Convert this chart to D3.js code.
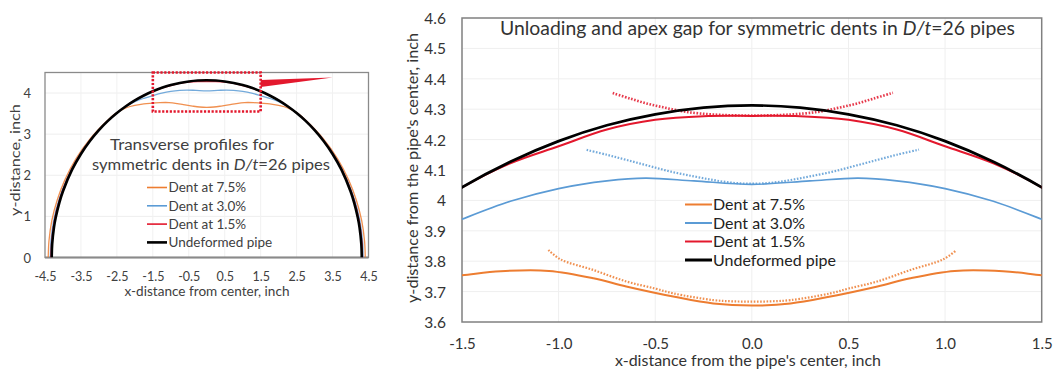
<!DOCTYPE html>
<html><head><meta charset="utf-8">
<script src="https://cdn.jsdelivr.net/npm/d3@7"></script>
<style>
html,body{margin:0;padding:0;background:#fff;}
svg{display:block;}
text{font-family:Lato,"Open Sans",sans-serif;}
</style></head>
<body><svg id="c" width="1053" height="369"></svg>
<script>
// ---------------- DATA ----------------
const undeformedPipe = [[-4.3125,0],[-4.3,0.328],[-4.25,0.732],[-4.2,0.979],[-4.1,1.337],[-4.0,1.612],[-3.75,2.130],[-3.5,2.519],[-3.25,2.835],[-3.0,3.098],[-2.75,3.322],[-2.5,3.514],[-2.25,3.679],[-2.0,3.821],[-1.75,3.941],[-1.5,4.043],[-1.25,4.127],[-1.0,4.195],[-0.75,4.247],[-0.5,4.283],[-0.25,4.305],[0,4.3125],[0.25,4.305],[0.5,4.283],[0.75,4.247],[1.0,4.195],[1.25,4.127],[1.5,4.043],[1.75,3.941],[2.0,3.821],[2.25,3.679],[2.5,3.514],[2.75,3.322],[3.0,3.098],[3.25,2.835],[3.5,2.519],[3.75,2.130],[4.0,1.612],[4.1,1.337],[4.2,0.979],[4.25,0.732],[4.3,0.328],[4.3125,0]];
const dent15 = [[-4.335,0],[-4.315,0.4],[-4.24,0.9],[-4.10,1.4],[-3.89,1.9],[-3.60,2.4],[-3.205,2.9],[-2.785,3.3],[-2.525,3.5],[-2.25,3.68],[-2.0,3.822],[-1.75,3.942],[-1.5,4.043],[-1.25,4.122],[-1.0,4.178],[-0.75,4.233],[-0.5,4.265],[-0.25,4.277],[0,4.278],[0.25,4.277],[0.5,4.265],[0.75,4.233],[1.0,4.178],[1.25,4.122],[1.5,4.043],[1.75,3.942],[2.0,3.822],[2.25,3.68],[2.525,3.5],[2.785,3.3],[3.205,2.9],[3.60,2.4],[3.89,1.9],[4.10,1.4],[4.24,0.9],[4.315,0.4],[4.335,0]];
const dent30 = [[-4.35,0],[-4.335,0.4],[-4.26,0.9],[-4.115,1.4],[-3.90,1.9],[-3.605,2.4],[-3.21,2.9],[-2.79,3.3],[-2.53,3.5],[-2.25,3.67],[-2.0,3.79],[-1.75,3.872],[-1.5,3.938],[-1.25,3.997],[-1.0,4.039],[-0.75,4.064],[-0.55,4.073],[-0.3,4.064],[0,4.053],[0.3,4.064],[0.55,4.073],[0.75,4.064],[1.0,4.039],[1.25,3.997],[1.5,3.938],[1.75,3.872],[2.0,3.79],[2.25,3.67],[2.53,3.5],[2.79,3.3],[3.21,2.9],[3.605,2.4],[3.90,1.9],[4.115,1.4],[4.26,0.9],[4.335,0.4],[4.35,0]];
const dent75 = [[-4.41,0],[-4.39,0.4],[-4.31,0.9],[-4.16,1.4],[-3.94,1.9],[-3.64,2.4],[-3.23,2.9],[-2.80,3.3],[-2.54,3.5],[-2.25,3.64],[-2.0,3.70],[-1.75,3.738],[-1.5,3.754],[-1.3,3.767],[-1.05,3.768],[-0.82,3.744],[-0.65,3.717],[-0.4,3.683],[-0.2,3.661],[0,3.654],[0.2,3.661],[0.4,3.683],[0.65,3.717],[0.82,3.744],[1.05,3.768],[1.3,3.767],[1.5,3.754],[1.75,3.738],[2.0,3.70],[2.25,3.64],[2.54,3.5],[2.80,3.3],[3.23,2.9],[3.64,2.4],[3.94,1.9],[4.16,1.4],[4.31,0.9],[4.39,0.4],[4.41,0]];
// loaded (dotted) profiles near the apex
const dent15Loaded = [[-0.72,4.353],[-0.63,4.335],[-0.54,4.318],[-0.45,4.305],[-0.36,4.293],[-0.27,4.286],[-0.15,4.281],[0,4.279],[0.15,4.281],[0.27,4.286],[0.36,4.293],[0.45,4.305],[0.54,4.318],[0.63,4.335],[0.73,4.354]];
const dent30Loaded = [[-0.855,4.166],[-0.75,4.15],[-0.648,4.133],[-0.53,4.113],[-0.415,4.094],[-0.3,4.079],[-0.2,4.067],[-0.1,4.058],[0,4.055],[0.1,4.058],[0.2,4.067],[0.3,4.079],[0.415,4.094],[0.53,4.113],[0.648,4.133],[0.75,4.15],[0.865,4.167]];
const dent75Loaded = [[-1.053,3.837],[-0.99,3.806],[-0.82,3.771],[-0.648,3.733],[-0.5,3.71],[-0.406,3.694],[-0.2,3.672],[-0.1,3.668],[0,3.667],[0.1,3.668],[0.2,3.672],[0.406,3.694],[0.5,3.71],[0.648,3.733],[0.82,3.771],[0.99,3.806],[1.056,3.835]];
const seriesNames = ["Dent at 7.5%","Dent at 3.0%","Dent at 1.5%","Undeformed pipe"];
const seriesColors = ["#ed7d31","#5b9bd5","#e3182d","#000000"];
const leftXTicks = [-4.5,-3.5,-2.5,-1.5,-0.5,0.5,1.5,2.5,3.5,4.5];
const leftXTickLabels = ["-4.5","-3.5","-2.5","-1.5","-0.5","0.5","1.5","2.5","3.5","4.5"];
const leftYTicks = [0,1,2,3,4];
const leftYTickLabels = ["0","1","2","3","4"];
const rightXTicks = [-1.5,-1.0,-0.5,0.0,0.5,1.0,1.5];
const rightXTickLabels = ["-1.5","-1.0","-0.5","0.0","0.5","1.0","1.5"];
const rightYTicks = [3.6,3.7,3.8,3.9,4.0,4.1,4.2,4.3,4.4,4.5,4.6];
const rightYTickLabels = ["3.6","3.7","3.8","3.9","4","4.1","4.2","4.3","4.4","4.5","4.6"];
const zoomBox = [[-1.5,3.55],[1.5,4.5]];
const pointerWedge = [[1.5,4.32],[1.5,4.15],[3.5,4.38]];

// ---------------- DRAW ----------------
const svg = d3.select("#c");
const defs = svg.append("defs");
const solidSeries = [dent75, dent30, dent15, undeformedPipe];
const loadedSeries = [dent75Loaded, dent30Loaded, dent15Loaded];

// ===== Left chart =====
const xL = d3.scaleLinear().domain([-4.5,4.5]).range([45,368.5]);
const yL = d3.scaleLinear().domain([0,4.5]).range([257.5,72.5]);
defs.append("clipPath").attr("id","clipL").append("rect")
  .attr("x",xL(-4.5)).attr("y",yL(4.5)-2).attr("width",xL(4.5)-xL(-4.5)).attr("height",yL(0)-yL(4.5)+2);
const gL = svg.append("g");
gL.append("g").selectAll("line").data(leftYTicks.slice(1)).join("line")
  .attr("x1",xL(-4.5)).attr("x2",xL(4.5)).attr("y1",d=>yL(d)).attr("y2",d=>yL(d))
  .attr("stroke","#eeeeee").attr("stroke-width",1);
gL.append("g").selectAll("line").data(leftXTicks.slice(1,-1)).join("line")
  .attr("y1",yL(0)).attr("y2",yL(4.5)).attr("x1",d=>xL(d)).attr("x2",d=>xL(d))
  .attr("stroke","#f1f1f1").attr("stroke-width",1);
gL.append("rect").attr("x",xL(-4.5)).attr("y",yL(4.5)).attr("width",xL(4.5)-xL(-4.5)).attr("height",yL(0)-yL(4.5))
  .attr("fill","none").attr("stroke","#8a8a8a").attr("stroke-width",1.3);
gL.append("line").attr("x1",xL(-4.5)).attr("x2",xL(4.5)).attr("y1",yL(0)).attr("y2",yL(0))
  .attr("stroke","#8a8a8a").attr("stroke-width",2);
const axLx = gL.append("g").attr("transform",`translate(0,${yL(0)})`)
  .call(d3.axisBottom(xL).tickValues(leftXTicks).tickSize(0).tickPadding(0).tickFormat((d,i)=>leftXTickLabels[i]));
axLx.select(".domain").remove();
axLx.selectAll("text").attr("dy",null).attr("y",23).attr("font-size",12.5).attr("fill","#404040").attr("font-family","Lato");
const axLy = gL.append("g").attr("transform",`translate(${xL(-4.5)},0)`)
  .call(d3.axisLeft(yL).tickValues(leftYTicks).tickSize(0).tickPadding(0).tickFormat((d,i)=>leftYTickLabels[i]));
axLy.select(".domain").remove();
axLy.selectAll("text").attr("x",-14).attr("dy","0.35em").attr("font-size",13).attr("fill","#404040").attr("font-family","Lato");
const lineL = d3.line().x(d=>xL(d[0])).y(d=>yL(d[1])).curve(d3.curveCatmullRom.alpha(0.5));
const gLc = gL.append("g").attr("clip-path","url(#clipL)");
const widthsL = [1.3,1.3,1.3,2.6];
solidSeries.forEach((s,i)=>{
  gLc.append("path").datum(s).attr("d",lineL).attr("fill","none")
    .attr("stroke",seriesColors[i]).attr("stroke-width",widthsL[i]).attr("opacity",i<3?0.85:1);
});
gL.append("rect").attr("x",xL(zoomBox[0][0])).attr("y",yL(zoomBox[1][1]))
  .attr("width",xL(zoomBox[1][0])-xL(zoomBox[0][0])).attr("height",yL(zoomBox[0][1])-yL(zoomBox[1][1]))
  .attr("fill","none").attr("stroke","#e3182d").attr("stroke-width",2.6).attr("stroke-dasharray","2.2,1.6");
gL.append("path").attr("d","M"+pointerWedge.map(p=>[xL(p[0]),yL(p[1])].join(",")).join("L")+"Z")
  .attr("fill","#e3182d");
gL.append("text").attr("x",192).attr("y",150).attr("text-anchor","middle").attr("font-size",15.5)
  .attr("fill","#404040").attr("textLength",164).attr("lengthAdjust","spacingAndGlyphs").text("Transverse profiles for");
gL.append("text").attr("x",211).attr("y",169.5).attr("text-anchor","middle").attr("font-size",15.5)
  .attr("fill","#404040").attr("textLength",238).attr("lengthAdjust","spacingAndGlyphs")
  .html('symmetric dents in <tspan font-style="italic">D/t</tspan>=26 pipes');
const legL = gL.append("g");
seriesNames.forEach((n,i)=>{
  const yy = 187.5 + i*18.3;
  legL.append("line").attr("x1",147).attr("x2",167).attr("y1",yy).attr("y2",yy)
    .attr("stroke",seriesColors[i]).attr("stroke-width",i<3?1.6:2.6);
  legL.append("text").attr("x",168.5).attr("y",yy).attr("dy","0.35em").attr("font-size",13.5)
    .attr("fill","#404040").text(n);
});
gL.append("text").attr("x",207).attr("y",296).attr("text-anchor","middle").attr("font-size",13)
  .attr("fill","#404040").attr("textLength",165).attr("lengthAdjust","spacingAndGlyphs").text("x-distance from center, inch");
gL.append("text").attr("transform","translate(20,160) rotate(-90)").attr("text-anchor","middle").attr("font-size",13.5)
  .attr("fill","#404040").attr("textLength",112).attr("lengthAdjust","spacingAndGlyphs").text("y-distance, inch");

// ===== Right chart =====
const xR = d3.scaleLinear().domain([-1.5,1.5]).range([462,1041.7]);
const yR = d3.scaleLinear().domain([3.6,4.6]).range([322,18]);
defs.append("clipPath").attr("id","clipR").append("rect")
  .attr("x",xR(-1.5)).attr("y",yR(4.6)).attr("width",xR(1.5)-xR(-1.5)).attr("height",yR(3.6)-yR(4.6));
const gR = svg.append("g");
gR.append("g").selectAll("line").data(rightYTicks.slice(1,-1)).join("line")
  .attr("x1",xR(-1.5)).attr("x2",xR(1.5)).attr("y1",d=>yR(d)).attr("y2",d=>yR(d))
  .attr("stroke","#efefef").attr("stroke-width",1);
gR.append("g").selectAll("line").data(rightXTicks.slice(1,-1)).join("line")
  .attr("y1",yR(3.6)).attr("y2",yR(4.6)).attr("x1",d=>xR(d)).attr("x2",d=>xR(d))
  .attr("stroke","#efefef").attr("stroke-width",1);
gR.append("rect").attr("x",xR(-1.5)).attr("y",yR(4.6)).attr("width",xR(1.5)-xR(-1.5)).attr("height",yR(3.6)-yR(4.6))
  .attr("fill","none").attr("stroke","#808080").attr("stroke-width",1.5);
const axRx = gR.append("g").attr("transform",`translate(0,${yR(3.6)})`)
  .call(d3.axisBottom(xR).tickValues(rightXTicks).tickSize(0).tickPadding(0).tickFormat((d,i)=>rightXTickLabels[i]));
axRx.select(".domain").remove();
axRx.selectAll("text").attr("dy",null).attr("y",27).attr("font-size",15).attr("fill","#333").attr("font-family","Lato");
const axRy = gR.append("g").attr("transform",`translate(${xR(-1.5)},0)`)
  .call(d3.axisLeft(yR).tickValues(rightYTicks).tickSize(0).tickPadding(0).tickFormat((d,i)=>rightYTickLabels[i]));
axRy.select(".domain").remove();
axRy.selectAll("text").attr("x",-16).attr("dy","0.35em").attr("font-size",15.5).attr("fill","#333").attr("font-family","Lato");
const lineR = d3.line().x(d=>xR(d[0])).y(d=>yR(d[1])).curve(d3.curveCatmullRom.alpha(0.5));
const gRc = gR.append("g").attr("clip-path","url(#clipR)");
const widthsR = [2,1.7,2,2.7];
const dotW = [2.2,2.2,2.6];
loadedSeries.forEach((s,i)=>{
  gRc.append("path").datum(s).attr("d",lineR).attr("fill","none")
    .attr("stroke",seriesColors[i]).attr("stroke-width",dotW[i]).attr("stroke-dasharray","1.6,1.6").attr("opacity",0.85);
});
solidSeries.forEach((s,i)=>{
  gRc.append("path").datum(s).attr("d",lineR).attr("fill","none")
    .attr("stroke",seriesColors[i]).attr("stroke-width",widthsR[i]);
});
gR.append("text").attr("x",757.5).attr("y",35).attr("text-anchor","middle").attr("font-size",18.5)
  .attr("fill","#333").attr("textLength",515).attr("lengthAdjust","spacingAndGlyphs")
  .html('Unloading and apex gap for symmetric dents in <tspan font-style="italic">D/t</tspan>=26 pipes');
const legR = gR.append("g");
seriesNames.forEach((n,i)=>{
  const yy = 204.5 + i*18.5;
  legR.append("line").attr("x1",685).attr("x2",712).attr("y1",yy).attr("y2",yy)
    .attr("stroke",seriesColors[i]).attr("stroke-width",i<3?2:3);
  legR.append("text").attr("x",713).attr("y",yy).attr("dy","0.36em").attr("font-size",16)
    .attr("font-family","'Liberation Sans Narrow','Roboto',sans-serif").attr("font-stretch","condensed")
    .attr("fill","#222").text(n);
});
gR.append("text").attr("x",748).attr("y",366).attr("text-anchor","middle").attr("font-size",15)
  .attr("fill","#333").attr("textLength",266).attr("lengthAdjust","spacingAndGlyphs").text("x-distance from the pipe's center, inch");
gR.append("text").attr("transform","translate(418,168) rotate(-90)").attr("text-anchor","middle").attr("font-size",16)
  .attr("fill","#333").attr("textLength",270).attr("lengthAdjust","spacingAndGlyphs").text("y-distance from the pipe's center, inch");
</script></body></html>
